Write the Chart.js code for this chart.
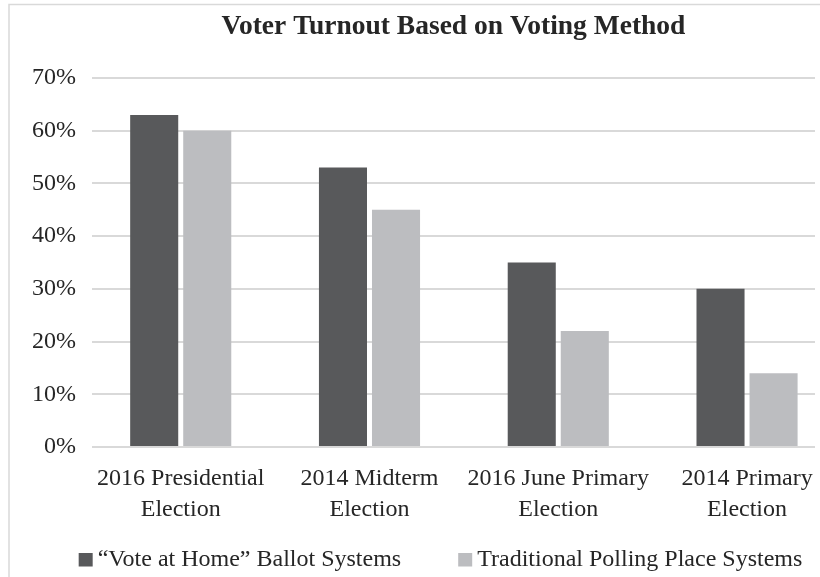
<!DOCTYPE html>
<html>
<head>
<meta charset="utf-8">
<title>Voter Turnout Based on Voting Method</title>
<script src="https://cdn.jsdelivr.net/npm/chart.js@4.4.1/dist/chart.umd.min.js"></script>
<style>
  html, body { margin: 0; padding: 0; background: #fff; }
  canvas { display: block; }
</style>
</head>
<body>
<canvas id="turnout" width="820" height="577"></canvas>
<script>
// elections on the x axis (two-line labels)
const elections = [
  ['2016 Presidential', 'Election'],
  ['2014 Midterm', 'Election'],
  ['2016 June Primary', 'Election'],
  ['2014 Primary', 'Election']
];
const seriesNames = ['\u201cVote at Home\u201d Ballot Systems', 'Traditional Polling Place Systems'];
// turnout, percent
const voteAtHome = [63, 53, 35, 30];
const pollingPlace = [60, 45, 22, 14];
const yTicks = [0, 10, 20, 30, 40, 50, 60, 70];

const darkGray = '#58595b';
const lightGray = '#bcbdc0';
const gridGray = '#d9d9d9';
const textColor = '#262626';
const serif = '"Times New Roman", "Liberation Serif", serif';

// legend drawn under the axis, square swatch + label
const bottomLegend = {
  id: 'bottomLegend',
  afterDraw(chart) {
    const ctx = chart.ctx;
    const box = 14, gap = 5, itemGap = 57, baseline = 566;
    ctx.save();
    ctx.font = '24px ' + serif;
    ctx.textBaseline = 'alphabetic';
    const items = chart.data.datasets.map(ds => ({
      text: ds.label,
      color: ds.backgroundColor,
      w: box + gap + ctx.measureText(ds.label).width
    }));
    const total = items.reduce((s, it) => s + it.w, 0) + itemGap * (items.length - 1);
    let x = 440.5 - total / 2;
    items.forEach(it => {
      ctx.fillStyle = it.color;
      ctx.fillRect(x, baseline - 13, box, box - 0.5);
      ctx.fillStyle = textColor;
      ctx.fillText(it.text, x + box + gap, baseline);
      x += it.w + itemGap;
    });
    ctx.restore();
  }
};

// white background with the thin outer frame
const frame = {
  id: 'frame',
  beforeDraw(chart) {
    const ctx = chart.ctx;
    ctx.save();
    ctx.fillStyle = '#fff';
    ctx.fillRect(0, 0, chart.width, chart.height);
    ctx.strokeStyle = gridGray;
    ctx.lineWidth = 1.5;
    ctx.strokeRect(9, 4.5, chart.width + 20, chart.height + 20);
    ctx.restore();
  }
};

new Chart(document.getElementById('turnout'), {
  type: 'bar',
  data: {
    datasets: [
      {
        label: seriesNames[0],
        data: voteAtHome.map((v, i) => ({ x: i, y: v })),
        backgroundColor: darkGray
      },
      {
        label: seriesNames[1],
        data: pollingPlace.map((v, i) => ({ x: i, y: v })),
        backgroundColor: lightGray
      }
    ]
  },
  options: {
    responsive: false,
    animation: false,
    categoryPercentage: 0.562,
    barPercentage: 0.906,
    layout: { padding: { left: 0, right: 5, top: 0, bottom: 40 } },
    scales: {
      x: {
        type: 'linear',
        offset: false,
        min: -0.47,
        max: 3.36,
        grid: { display: false, drawTicks: false, offset: false },
        border: { display: false },
        afterBuildTicks: scale => { scale.ticks = elections.map((_, i) => ({ value: i })); },
        afterFit: scale => {
          scale.height = 90;
          // labels fit inside the plot width, no extra side padding
          scale.paddingLeft = 0;
          scale.paddingRight = 0;
        },
        ticks: {
          autoSkip: false,
          maxRotation: 0,
          padding: 16,
          color: textColor,
          font: { family: serif, size: 24, lineHeight: 1.3 },
          callback: v => elections[v]
        }
      },
      y: {
        min: 0,
        max: 70,
        grid: { color: gridGray, lineWidth: 2, drawTicks: false },
        border: { display: false },
        afterBuildTicks: scale => { scale.ticks = yTicks.map(v => ({ value: v })); },
        afterFit: scale => { scale.width = 92; },
        ticks: {
          padding: 16,
          color: textColor,
          font: { family: serif, size: 24 },
          callback: v => v + '%'
        }
      }
    },
    plugins: {
      legend: { display: false },
      tooltip: { enabled: false },
      title: {
        display: true,
        fullSize: false,
        text: 'Voter Turnout Based on Voting Method',
        color: textColor,
        font: { family: serif, size: 27.5, weight: 'bold' },
        padding: { top: 10, bottom: 35 }
      }
    }
  },
  plugins: [frame, bottomLegend]
});
</script>
</body>
</html>
